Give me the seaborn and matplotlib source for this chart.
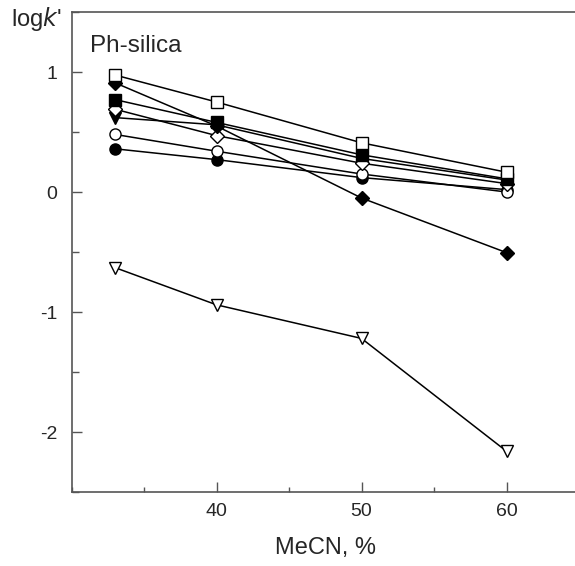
import matplotlib
matplotlib.use("Agg")
import matplotlib.pyplot as plt
import seaborn as sns
import pandas as pd
from matplotlib.ticker import MultipleLocator

sns.set_style("ticks")
plt.rcParams['font.family'] = ['Liberation Sans', 'DejaVu Sans']

mecn = [33, 40, 50, 60]
open_square = [0.975, 0.75, 0.41, 0.165]
filled_diamond = [0.91, 0.55, -0.05, -0.505]
filled_square = [0.77, 0.58, 0.31, 0.11]
filled_tri = [0.62, 0.56, 0.28, 0.10]
open_diamond = [0.69, 0.47, 0.24, 0.07]
filled_circle = [0.36, 0.27, 0.12, 0.02]
open_circle = [0.48, 0.34, 0.15, 0.0]
open_tri = [-0.63, -0.94, -1.22, -2.16]

series = [
    ("filled_circle", filled_circle, "o", "black"),
    ("open_circle", open_circle, "o", "white"),
    ("filled_tri", filled_tri, "v", "black"),
    ("open_diamond", open_diamond, "D", "white"),
    ("filled_diamond", filled_diamond, "D", "black"),
    ("filled_square", filled_square, "s", "black"),
    ("open_square", open_square, "s", "white"),
    ("open_tri", open_tri, "v", "white"),
]

fig = plt.figure(figsize=(5.75, 5.66), dpi=100)
ax = fig.add_axes([71.5 / 575, 0.1307, 507.5 / 575, 0.8481])

for name, vals, mk, fc in series:
    df = pd.DataFrame({"x": mecn, "y": vals})
    ms = 7 if mk == "D" else 8
    sns.lineplot(data=df, x="x", y="y", ax=ax, color="black", linewidth=1.1,
                 marker=mk, markersize=ms, markerfacecolor=fc,
                 markeredgecolor="black", markeredgewidth=1.0)

ax.set_xlim(30, 65)
ax.set_ylim(-2.5, 1.5)
ax.xaxis.set_minor_locator(MultipleLocator(5))
ax.yaxis.set_minor_locator(MultipleLocator(0.5))
ax.set_xticks([40, 50, 60])
ax.set_xticklabels(["40", "50", "60"])
ax.set_yticks([-2, -1, 0, 1])
ax.set_yticklabels(["-2", "-1", "0", "1"])

ax.tick_params(which="major", direction="in", length=7, width=1, color="#555555",
               labelsize=14, pad=8)
ax.tick_params(axis="y", which="minor", direction="in", length=5, width=1, color="#555555")
ax.tick_params(axis="x", which="minor", direction="in", length=3.5, width=1, color="#555555")
ax.tick_params(axis="y", which="major", pad=10)

for s in ["left", "bottom", "top"]:
    ax.spines[s].set_color("#555555")
    ax.spines[s].set_linewidth(1.2)
ax.spines["right"].set_visible(False)

ax.set_xlabel("MeCN, %", fontsize=17, labelpad=12)
ax.set_ylabel("")
fig.text(0.019, 0.966, r"log$\mathit{k}$'", fontsize=17, va="center", ha="left")
ax.text(0.037, 0.93, "Ph-silica", transform=ax.transAxes, fontsize=17.5, va="center", ha="left")

fig.savefig("out.png", dpi=100)
